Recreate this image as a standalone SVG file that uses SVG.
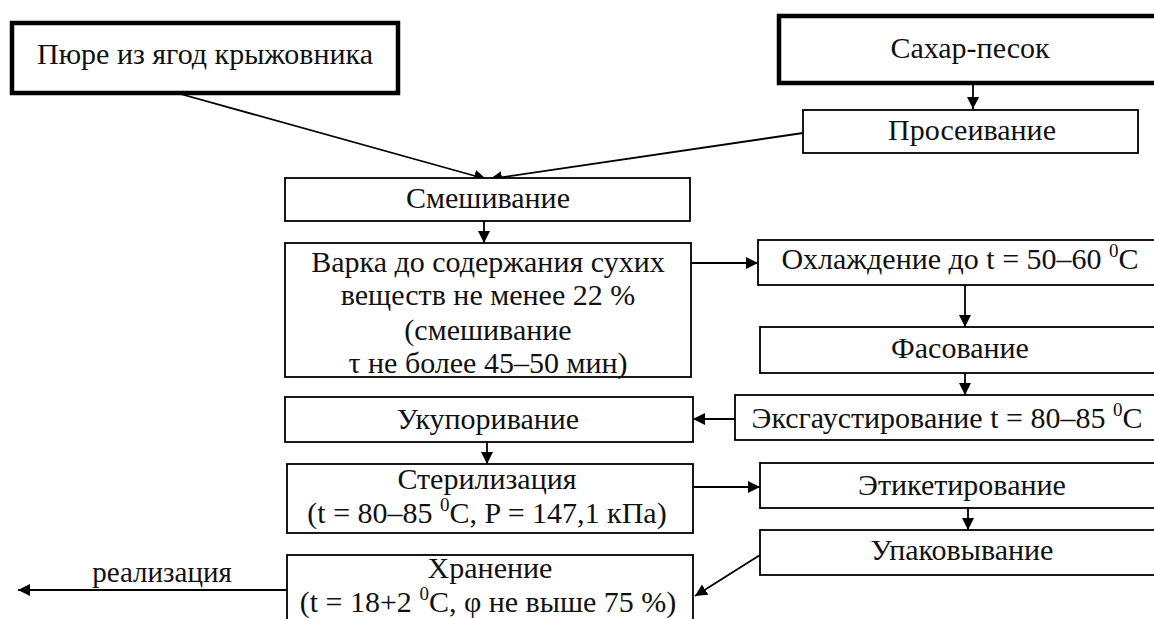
<svg xmlns="http://www.w3.org/2000/svg" width="1154" height="619" viewBox="0 0 1154 619" font-family="'Liberation Serif', 'DejaVu Serif', serif">
<style>
.b{fill:#fff;stroke:#000;stroke-width:1.8}
.bt{fill:#fff;stroke:#000;stroke-width:4.5}
text{font-family:"Liberation Serif","DejaVu Serif",serif;font-size:30px;fill:#111;text-anchor:middle}
.c{fill:none;stroke:#000;stroke-width:1.8}
.s{font-size:19px}
</style>
<defs>
<marker id="al" viewBox="0 0 10 10" refX="10" refY="5" markerWidth="12" markerHeight="12" markerUnits="userSpaceOnUse" orient="auto"><path d="M0,0 L10,5 L0,10 z" fill="#000"/></marker>
</defs>
<g id="connectors">
<line class="c" x1="177" y1="93" x2="486" y2="179" marker-end="url(#al)"/>
<line class="c" x1="803" y1="133" x2="490" y2="179" marker-end="url(#al)"/>
<line class="c" x1="973" y1="84" x2="973" y2="109" marker-end="url(#al)"/>
<line class="c" x1="484" y1="221" x2="484" y2="243" marker-end="url(#al)"/>
<line class="c" x1="691" y1="263" x2="758" y2="263" marker-end="url(#al)"/>
<line class="c" x1="965" y1="285" x2="965" y2="327" marker-end="url(#al)"/>
<line class="c" x1="965" y1="373" x2="965" y2="395" marker-end="url(#al)"/>
<line class="c" x1="735" y1="419" x2="693" y2="419" marker-end="url(#al)"/>
<line class="c" x1="487" y1="442" x2="487" y2="464" marker-end="url(#al)"/>
<line class="c" x1="693" y1="487" x2="760" y2="487" marker-end="url(#al)"/>
<line class="c" x1="968" y1="508" x2="968" y2="530" marker-end="url(#al)"/>
<line class="c" x1="760" y1="555" x2="695" y2="596" marker-end="url(#al)"/>
<line class="c" x1="287" y1="590" x2="18" y2="590" marker-end="url(#al)"/>
</g>
<g id="n1"><rect class="bt" x="12" y="23" width="386" height="70"/><text x="205" y="64">Пюре из ягод крыжовника</text></g>
<g id="n2"><rect class="bt" x="779" y="16" width="390" height="67"/><text x="970" y="58">Сахар-песок</text></g>
<g id="n3"><rect class="b" x="803" y="110" width="335" height="43"/><text x="972" y="140">Просеивание</text></g>
<g id="n4"><rect class="b" x="285" y="178" width="405" height="43"/><text x="488" y="208">Смешивание</text></g>
<g id="n5"><rect class="b" x="285" y="243" width="406" height="134"/>
<text x="488" y="272">Варка до содержания сухих</text>
<text x="488" y="305">веществ не менее 22 %</text>
<text x="488" y="340">(смешивание</text>
<text x="488" y="373">τ не более 45–50 мин)</text></g>
<g id="n6"><rect class="b" x="758" y="240" width="410" height="45"/><text x="960" y="269">Охлаждение до t = 50–60 <tspan class="s" dy="-12">0</tspan><tspan dy="12">C</tspan></text></g>
<g id="n7"><rect class="b" x="760" y="327" width="408" height="46"/><text x="960" y="358">Фасование</text></g>
<g id="n8"><rect class="b" x="735" y="395" width="433" height="45"/><text x="947" y="428">Эксгаустирование t = 80–85 <tspan class="s" dy="-12">0</tspan><tspan dy="12">C</tspan></text></g>
<g id="n9"><rect class="b" x="285" y="397" width="408" height="45"/><text x="488" y="429">Укупоривание</text></g>
<g id="n10"><rect class="b" x="287" y="464" width="406" height="69"/>
<text x="487" y="489">Стерилизация</text>
<text x="487" y="523">(t = 80–85 <tspan class="s" dy="-12">0</tspan><tspan dy="12">C, P = 147,1 кПа)</tspan></text></g>
<g id="n11"><rect class="b" x="760" y="463" width="408" height="45"/><text x="962" y="495">Этикетирование</text></g>
<g id="n12"><rect class="b" x="760" y="530" width="408" height="45"/><text x="962" y="560">Упаковывание</text></g>
<g id="n13"><rect class="b" x="287" y="555" width="406" height="80"/>
<text x="490" y="578">Хранение</text>
<text x="488" y="612">(t = 18+2 <tspan class="s" dy="-12">0</tspan><tspan dy="12">C, φ не выше 75 %)</tspan></text></g>
<text x="162" y="582" style="font-size:29px">реализация</text>
</svg>
